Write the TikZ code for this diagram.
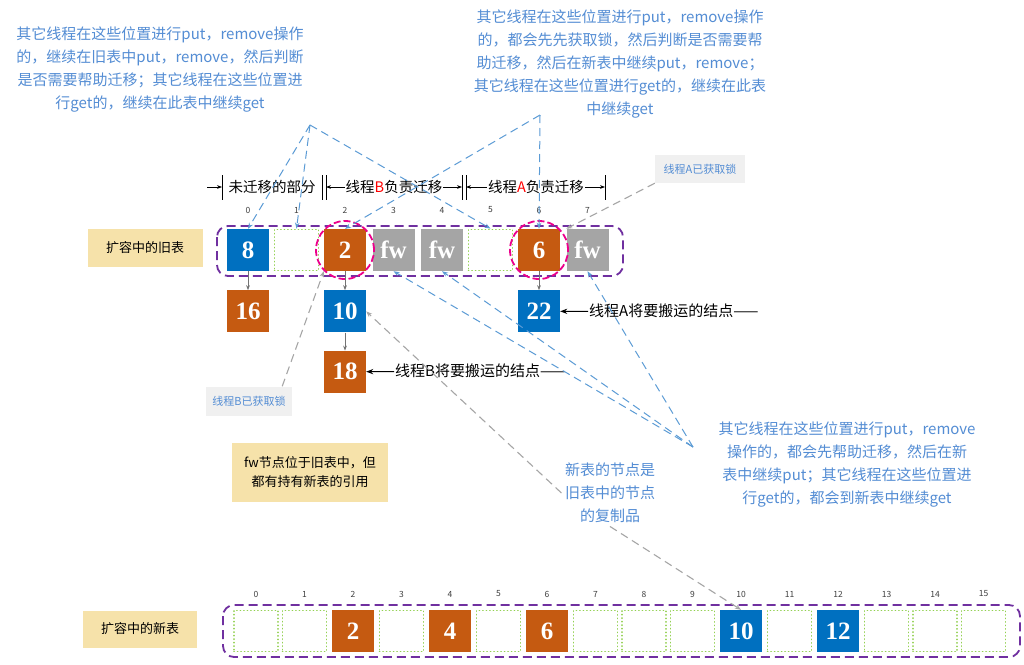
\documentclass[tikz,border=0pt]{standalone}
\usepackage{fontspec}
\setmainfont{Noto Sans CJK SC}
\newfontfamily\numfont{Liberation Serif}
\usepackage{xcolor}
\usepackage{tikz}
\usetikzlibrary{arrows.meta,positioning,calc}
\definecolor{cellblue}{RGB}{0,112,192}
\definecolor{cellorange}{RGB}{197,90,17}
\definecolor{cellgray}{RGB}{165,165,165}
\definecolor{slotgreen}{RGB}{146,208,80}
\definecolor{tabpurple}{RGB}{112,48,160}
\definecolor{notetan}{RGB}{246,226,170}
\definecolor{calltext}{RGB}{84,141,212}
\definecolor{callline}{RGB}{91,155,213}

\begin{document}
\begin{tikzpicture}[x=1pt,y=-1pt,
  cellbox/.style={minimum width=42pt,minimum height=42pt,inner sep=0pt,text=white,font=\numfont\bfseries\fontsize{25}{25}\selectfont},
  bluecell/.style={cellbox,fill=cellblue},
  orangecell/.style={cellbox,fill=cellorange},
  fwcell/.style={cellbox,fill=cellgray},
  slotbox/.style={draw=slotgreen,dash pattern=on 0.1pt off 3.4pt,line cap=round,line width=1.8pt,minimum width=44pt,minimum height=41pt,inner sep=0pt},
  tabframe/.style={draw=tabpurple,dash pattern=on 9pt off 5pt,line width=1.8pt,rounded corners=11pt},
  lockring/.style={draw=magenta,dash pattern=on 7pt off 3pt,line width=1.8pt,circle,minimum size=58pt},
  idx/.style={font=\fontsize{8.5}{8.5}\selectfont,text=black!75},
  notebox/.style={fill=notetan,align=center,font=\fontsize{13}{19}\selectfont},
  lockbox/.style={fill=black!6,text=calltext,font=\fontsize{11}{12}\selectfont,inner sep=0pt},
  calltxt/.style={text=calltext,align=center,font=\fontsize{15}{23}\selectfont},
  seglbl/.style={font=\fontsize{14.5}{14.5}\selectfont,inner sep=1pt},
  pointer/.style={font=\fontsize{15}{15}\selectfont,anchor=west,inner sep=1pt},
  callln/.style={draw=callline,dash pattern=on 8pt off 5pt,line width=1pt,-{Stealth[length=6pt]}},
  grayln/.style={draw=black!35,dash pattern=on 8pt off 5pt,line width=1.1pt,-{Stealth[length=6pt]}},
  link/.style={draw=black!55,line width=1pt,-{Stealth[length=5pt]}},
  segarr/.style={line width=0.8pt,-{Stealth[length=5pt]}}]
  \fill[white] (0,0) rectangle (1024,664);
  \useasboundingbox (0,0) rectangle (1024,664);

  \node[calltxt] (calltl) at (160,70) {其它线程在这些位置进行put，remove操作\\的，继续在旧表中put，remove，然后判断\\是否需要帮助迁移；其它线程在这些位置进\\行get的，继续在此表中继续get};
  \node[calltxt] (calltr) at (620,64) {其它线程在这些位置进行put，remove操作\\的，都会先先获取锁，然后判断是否需要帮\\助迁移，然后在新表中继续put，remove；\\其它线程在这些位置进行get的，继续在此表\\中继续get};
  \node[calltxt] (callbr) at (847,465) {其它线程在这些位置进行put，remove\\操作的，都会先帮助迁移，然后在新\\表中继续put；其它线程在这些位置进\\行get的，都会到新表中继续get};
  \node[calltxt] (copy) at (610,493) {新表的节点是\\旧表中的节点\\的复制品};

  \coordinate (a0) at (207,187);
  \foreach \b/\x in {b0/222,b1/322,b2/326,b3/462,b4/466,b5/605}{
    \coordinate (\b) at (\x,187);
    \draw[line width=0.8pt] (\x,175) -- (\x,200);
  }
  \node[seglbl] (seg0) at (272,187) {未迁移的部分};
  \node[seglbl] (segB) at (394,187) {线程\textcolor{red}{B}负责迁移};
  \node[seglbl] (segA) at (536,187) {线程\textcolor{red}{A}负责迁移};
  \draw[segarr] (a0) -- (b0);
  \draw[segarr] (segB) -- (b2);
  \draw[segarr] (segB) -- (b3);
  \draw[segarr] (segA) -- (b4);
  \draw[segarr] (segA) -- (b5);

  \node[notebox,minimum width=115pt,minimum height=38pt] (oldlab) at (145,248) {扩容中的旧表};
  \draw[tabframe] (217,226) rectangle (623,276);
  \foreach \i in {0,...,7}
    \node[idx] (oi\i) at ({248+48.5*\i},210) {\i};
  \node[bluecell] (o0) at (248,250) {8};
  \node[slotbox] (o1) at (296.5,250) {};
  \node[orangecell] (o2) at (345,250) {2};
  \node[fwcell] (o3) at (393.5,250) {fw};
  \node[fwcell] (o4) at (442,250) {fw};
  \node[slotbox] (o5) at (490.5,250) {};
  \node[orangecell] (o6) at (539,250) {6};
  \node[fwcell] (o7) at (587.5,250) {fw};
  \node[lockring] (r2) at (o2) {};
  \node[lockring] (r6) at (o6) {};

  \node[orangecell,below=19pt of o0] (o16) {16};
  \node[bluecell,below=19pt of o2] (o10) {10};
  \node[orangecell,below=18pt of o10] (o18) {18};
  \node[bluecell,below=19pt of o6] (o22) {22};
  \draw[link] (o0) -- (o16);
  \draw[link] (o2) -- (o10);
  \draw[link] (o10) -- (o18);
  \draw[link] (o6) -- (o22);

  \node[pointer] (pa) at (588,311) {线程A将要搬运的结点——};
  \node[pointer] (pb) at (394,371) {线程B将要搬运的结点——};
  \draw[line width=1pt,-{Stealth[length=7pt]}] (pa) -- (o22);
  \draw[line width=1pt,-{Stealth[length=7pt]}] (pb) -- (o18);

  \node[lockbox,minimum width=86pt,minimum height=29pt] (lockB) at (249,401) {线程B已获取锁};
  \node[lockbox,minimum width=90pt,minimum height=28pt] (lockA) at (700,169) {线程A已获取锁};
  \draw[grayln] ([xshift=-10pt]lockB.north east) -- (o2.south west);
  \draw[grayln] (lockA.south west) -- (o7.north west);

  \node[notebox,minimum width=156pt,minimum height=59pt] (fwnote) at (310,472) {fw节点位于旧表中，但\\都有持有新表的引用};

  \coordinate (tlap) at (310,125);
  \coordinate (trap) at (540,115);
  \coordinate (brap) at (693,447);
  \draw[callln] (tlap) -- (o0.north);
  \draw[callln] (tlap) -- (o1.north);
  \draw[callln] (tlap) -- (o5.north);
  \draw[callln] (trap) -- (o2.north);
  \draw[callln] (trap) -- (o6.north);
  \draw[callln] (brap) -- (o3.south);
  \draw[callln] (brap) -- (o4.south);
  \draw[callln] (brap) -- (o7.south);

  \node[notebox,minimum width=114pt,minimum height=37pt] (newlab) at (140,629) {扩容中的新表};
  \draw[tabframe] (223,605) rectangle (1020,657);
  \foreach \i in {0,...,15}
    \node[idx] (ni\i) at ({256+48.5*\i},594) {\i};
  \foreach \i in {0,1,3,5,7,8,9,11,13,14,15}
    \node[slotbox] (n\i) at ({256+48.5*\i},631) {};
  \node[orangecell] (n2) at (353,631) {2};
  \node[orangecell] (n4) at (450,631) {4};
  \node[orangecell] (n6) at (547,631) {6};
  \node[bluecell] (n10) at (741,631) {10};
  \node[bluecell] (n12) at (838,631) {12};

  \draw[grayln] (copy.west) -- (o10.east);
  \draw[grayln] (copy.south) -- (n10.north);
\end{tikzpicture}
\end{document}
